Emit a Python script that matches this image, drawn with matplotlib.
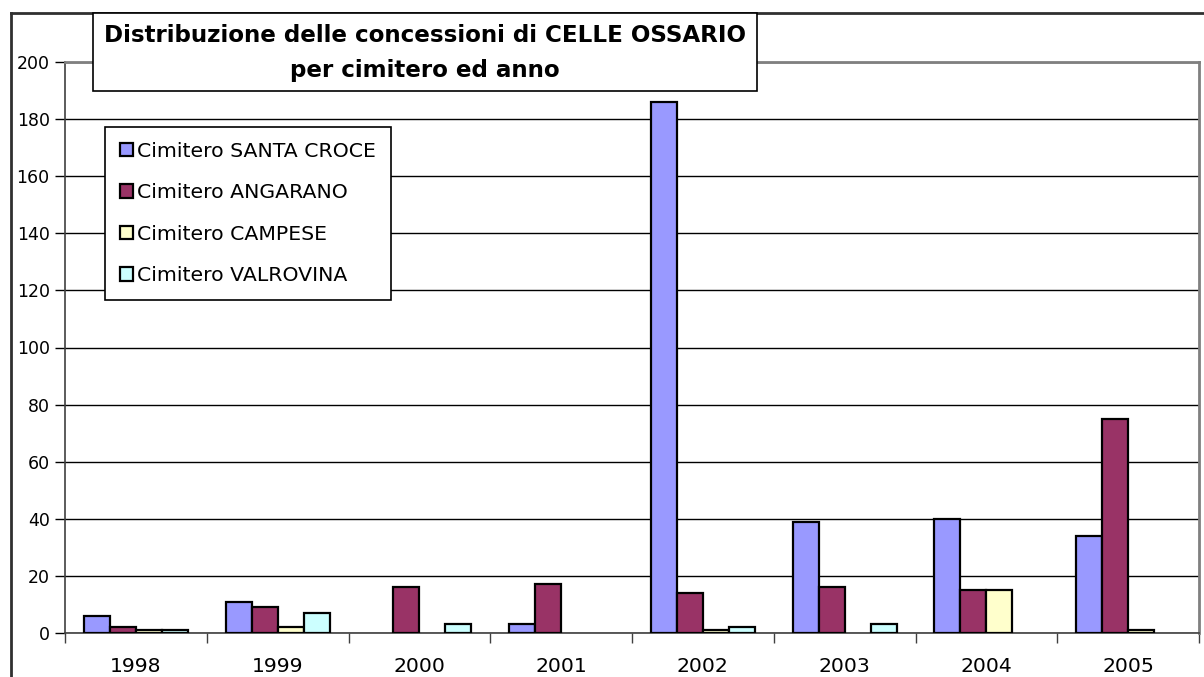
import matplotlib
matplotlib.use("Agg")
import matplotlib.pyplot as plt
from matplotlib.patches import Rectangle
from matplotlib.lines import Line2D
import numpy as np

plt.rcParams['font.family'] = ['DejaVu Sans']

years = ['1998', '1999', '2000', '2001', '2002', '2003', '2004', '2005']
series_names = ['Cimitero SANTA CROCE', 'Cimitero ANGARANO', 'Cimitero CAMPESE', 'Cimitero VALROVINA']
santa_croce = [6, 11, 0, 3, 186, 39, 40, 34]
angarano = [2, 9, 16, 17, 14, 16, 15, 75]
campese = [1, 2, 0, 0, 1, 0, 15, 1]
valrovina = [1, 7, 3, 0, 2, 3, 0, 0]
colors = ['#9999FF', '#993366', '#FFFFCC', '#CCFFFF']
title_lines = ['Distribuzione delle concessioni di CELLE OSSARIO', 'per cimitero ed anno']

W, H = 1204, 677
fig = plt.figure(figsize=(W / 100, H / 100), dpi=100)
ax = fig.add_axes([65 / W, 1 - 633 / H, (1199 - 65) / W, (633 - 62) / H])

all_series = [santa_croce, angarano, campese, valrovina]
n = len(years)
bw = 0.183
x0 = np.arange(n) + 0.5
for k, (vals, c, name) in enumerate(zip(all_series, colors, series_names)):
    lws = [1.6 if v > 0 else 0 for v in vals]
    ax.bar(x0 + (k - 1.5) * bw, vals, width=bw, color=c, edgecolor='black',
           linewidth=lws, label=name, zorder=3)

ax.set_xlim(0, n)
ax.set_ylim(0, 200)
ax.set_yticks(np.arange(0, 201, 20))
ax.set_yticklabels([str(v) for v in range(0, 201, 20)], fontsize=12.5)
ax.set_xticks(np.arange(0, n + 1), minor=False)
ax.set_xticklabels([''] * (n + 1))
ax.set_xticks(x0, minor=True)
ax.set_xticklabels(years, minor=True, fontsize=14.7)
ax.tick_params(axis='x', which='minor', length=0, pad=17)
ax.tick_params(axis='x', which='major', length=7, width=1, color='#404040', direction='out')
ax.tick_params(axis='y', length=7, width=1, direction='out', pad=4)
ax.grid(axis='y', color='black', linewidth=1, zorder=0)
ax.set_axisbelow(True)
for s in ['top', 'right']:
    ax.spines[s].set_color('#808080')
    ax.spines[s].set_linewidth(2)
ax.spines['left'].set_color('#404040')
ax.spines['left'].set_linewidth(1.2)
ax.spines['bottom'].set_color('#404040')
ax.spines['bottom'].set_linewidth(1.2)

handles, labels = ax.get_legend_handles_labels()
leg = ax.legend(handles, labels, loc='upper left', bbox_to_anchor=(105 / W, 1 - 127 / H),
                bbox_transform=fig.transFigure, borderaxespad=0,
                fontsize=14.7, frameon=True, fancybox=False, framealpha=1,
                edgecolor='black', handlelength=0.65, handleheight=0.65,
                handletextpad=0.2, labelspacing=1.1, borderpad=0.72)
leg.get_frame().set_linewidth(1.2)
for h in leg.legend_handles:
    h.set_linewidth(1.6)
leg.set_zorder(10)

# outer chart frame
fig.add_artist(Line2D([11 / W, 11 / W], [0, 1 - 13 / H], color='#303030', lw=2, transform=fig.transFigure))
fig.add_artist(Line2D([11 / W, 1], [1 - 13 / H, 1 - 13 / H], color='#303030', lw=2, transform=fig.transFigure))

# title box
fig.add_artist(Rectangle((93 / W, 1 - 91 / H), (757 - 93) / W, (91 - 13) / H,
                         transform=fig.transFigure, facecolor='white', edgecolor='black',
                         linewidth=1.2, zorder=20))
cx = (93 + 757) / 2 / W
fig.text(cx, 1 - 35 / H, title_lines[0], ha='center', va='center', fontsize=16.6,
         fontweight='bold', zorder=21)
fig.text(cx, 1 - 70 / H, title_lines[1], ha='center', va='center', fontsize=16.6,
         fontweight='bold', zorder=21)

fig.savefig('out.png', dpi=100)
